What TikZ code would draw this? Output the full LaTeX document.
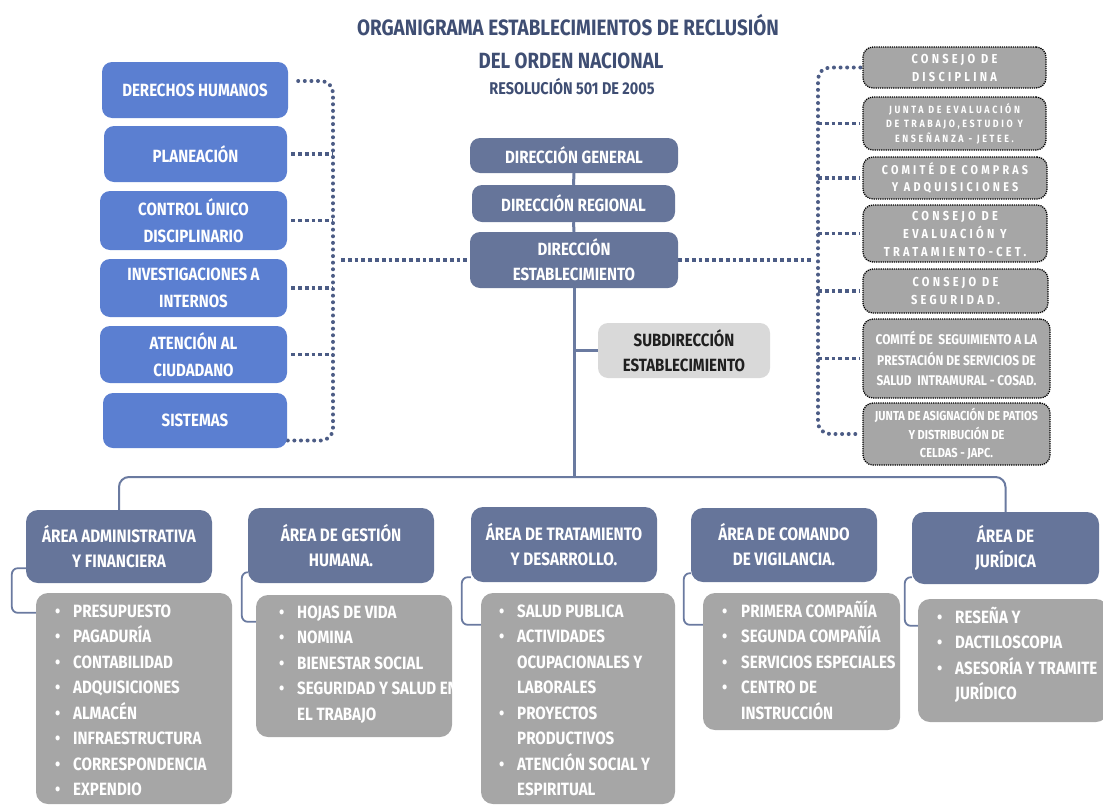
\documentclass[tikz,border=0pt]{standalone}
\usepackage{fontspec}
\setmainfont{Fira Sans}[FakeStretch=0.85]
\definecolor{titleC}{HTML}{3F4E73}
\definecolor{blueC}{HTML}{5B7FD1}
\definecolor{slateC}{HTML}{66759A}
\definecolor{grayC}{HTML}{A6A6A6}
\definecolor{lightC}{HTML}{D9D9D9}
\definecolor{lineC}{HTML}{6A7AA0}
\definecolor{dotC}{HTML}{4C5C85}
\definecolor{darkT}{HTML}{1F1F1F}
\pgfdeclarelayer{bg}
\pgfsetlayers{bg,main}
\tikzset{
  box/.style={rounded corners=10pt, inner sep=0pt, align=center, text=white,
    font=\bfseries\fontsize{17.7}{26.5}\selectfont},
  bluebox/.style={box, fill=blueC},
  slatebox/.style={box, fill=slateC},
  hdrbox/.style={box, fill=slateC, rounded corners=12pt, font=\bfseries\fontsize{18}{25}\selectfont},
  subbox/.style={box, fill=lightC, text=darkT},
  dotbox/.style={box, fill=grayC, draw=black, line width=1.3pt, dash pattern=on 1.2pt off 1pt},
  spaced/.style 2 args={font=\bfseries\fontsize{#1}{#2}\selectfont\addfontfeature{LetterSpace=25}},
  listbox/.style={rounded corners=12pt, fill=grayC, inner sep=0pt},
  listtext/.style={text=white, inner sep=0pt, anchor=base west, font=\bfseries\fontsize{17.8}{25.5}\selectfont},
  titletext/.style={text=titleC, inner sep=0pt, anchor=base, font=\bfseries\fontsize{#1}{#1}\selectfont},
  rdots/.style={draw=dotC, line width=4pt, line cap=round, dash pattern=on 0pt off 6.6pt},
  sqdash/.style={draw=dotC, line width=3.8pt, dash pattern=on 3.8pt off 3pt},
  trunk/.style={draw=lineC, line width=3pt},
  brk/.style={draw=lineC, line width=1.8pt, rounded corners=6pt},
}
\begin{document}
\begin{tikzpicture}[x=1pt,y=-1pt]
\useasboundingbox (0,0) rectangle (1103,806);
% title
\node[titletext=22.2] (t1) at (568,35) {ORGANIGRAMA ESTABLECIMIENTOS DE RECLUSIÓN};
\node[titletext=22] (t2) at (571,68) {DEL ORDEN NACIONAL};
\node[titletext=17] (t3) at (572,94) {RESOLUCIÓN 501 DE 2005};
% left boxes
\node[bluebox, minimum width=186pt, minimum height=56pt] (lb1) at (195,90) {DERECHOS HUMANOS};
\node[bluebox, minimum width=183pt, minimum height=56pt] (lb2) at (195.5,154) {PLANEACIÓN};
\node[bluebox, minimum width=187pt, minimum height=59pt] (lb3) at (193.5,220.5) {CONTROL ÚNICO\\DISCIPLINARIO};
\node[bluebox, minimum width=187pt, minimum height=58pt] (lb4) at (193.5,288) {INVESTIGACIONES A\\INTERNOS};
\node[bluebox, minimum width=187pt, minimum height=57pt] (lb5) at (193.5,354.5) {ATENCIÓN AL\\CIUDADANO};
\node[bluebox, minimum width=184pt, minimum height=55pt] (lb6) at (195,420.5) {SISTEMAS};
% centre
\node[slatebox, minimum width=208pt, minimum height=35pt] (dg) at (574,155.5) {DIRECCIÓN GENERAL};
\node[slatebox, minimum width=203pt, minimum height=37pt] (dr) at (573.5,203.5) {DIRECCIÓN REGIONAL};
\node[slatebox, minimum width=208pt, minimum height=56pt, font=\bfseries\fontsize{17.7}{25}\selectfont] (de) at (574,260) {DIRECCIÓN\\ESTABLECIMIENTO};
\node[subbox, minimum width=172pt, minimum height=55pt, font=\bfseries\fontsize{17.7}{25}\selectfont] (sub) at (684,350.5) {SUBDIRECCIÓN\\ESTABLECIMIENTO};
% right boxes
\node[dotbox, spaced={13}{18}, minimum width=183pt, minimum height=41pt] (rb1) at (954.5,67.5) {CONSEJO DE\\DISCIPLINA};
\node[dotbox, spaced={10.5}{14.5}, minimum width=183pt, minimum height=53pt] (rb2) at (954.5,123.5) {JUNTA DE EVALUACIÓN\\DE TRABAJO,ESTUDIO Y\\ENSEÑANZA - JETEE.};
\node[dotbox, spaced={12.7}{17}, minimum width=184pt, minimum height=42pt] (rb3) at (955,178) {COMITÉ DE COMPRAS\\Y ADQUISICIONES};
\node[dotbox, spaced={13}{18}, minimum width=184pt, minimum height=57pt] (rb4) at (955,233.5) {CONSEJO DE\\EVALUACIÓN Y\\TRATAMIENTO-CET.};
\node[dotbox, spaced={13}{18}, minimum width=185pt, minimum height=44pt] (rb5) at (955.5,291) {CONSEJO DE\\SEGURIDAD.};
\node[dotbox, font=\bfseries\fontsize{14}{20.5}\selectfont, minimum width=187pt, minimum height=79pt] (rb6) at (956.5,358.5) {COMITÉ DE \ SEGUIMIENTO A LA\\PRESTACIÓN DE SERVICIOS DE\\SALUD \ INTRAMURAL - COSAD.};
\node[dotbox, font=\bfseries\fontsize{13}{18.5}\selectfont, minimum width=187pt, minimum height=62pt] (rb7) at (956.5,434) {JUNTA DE ASIGNACIÓN DE PATIOS\\Y DISTRIBUCIÓN DE\\CELDAS - JAPC.};
% bottom headers
\node[hdrbox, minimum width=186pt, minimum height=73pt] (h1) at (119,546.5) {ÁREA ADMINISTRATIVA\\Y FINANCIERA};
\node[hdrbox, minimum width=186pt, minimum height=75pt] (h2) at (341,545.5) {ÁREA DE GESTIÓN\\HUMANA.};
\node[hdrbox, minimum width=186pt, minimum height=75pt] (h3) at (564,544.5) {ÁREA DE TRATAMIENTO\\Y DESARROLLO.};
\node[hdrbox, minimum width=186pt, minimum height=74pt] (h4) at (784,545) {ÁREA DE COMANDO\\DE VIGILANCIA.};
\node[hdrbox, minimum width=187pt, minimum height=72pt] (h5) at (1005.5,548) {ÁREA DE\\JURÍDICA};
% list boxes
\node[listbox, minimum width=196pt, minimum height=211pt] (l1) at (134,698.5) {};
\node[listbox, minimum width=196pt, minimum height=142pt] (l2) at (354,666) {};
\node[listbox, minimum width=194pt, minimum height=211pt] (l3) at (578,698.5) {};
\node[listbox, minimum width=197pt, minimum height=137pt] (l4) at (801.5,661.5) {};
\node[listbox, minimum width=190pt, minimum height=123pt] (l5) at (1013,660.5) {};
\node[listtext] (lt1) at (55,617) {\begin{tabular}[t]{@{}p{18pt}@{}l@{}}
\textbullet & PRESUPUESTO\\ \textbullet & PAGADURÍA\\ \textbullet & CONTABILIDAD\\
\textbullet & ADQUISICIONES\\ \textbullet & ALMACÉN\\ \textbullet & INFRAESTRUCTURA\\
\textbullet & CORRESPONDENCIA\\ \textbullet & EXPENDIO\end{tabular}};
\node[listtext] (lt2) at (279,618) {\begin{tabular}[t]{@{}p{18pt}@{}l@{}}
\textbullet & HOJAS DE VIDA\\ \textbullet & NOMINA\\ \textbullet & BIENESTAR SOCIAL\\
\textbullet & SEGURIDAD Y SALUD EN\\ & EL TRABAJO\end{tabular}};
\node[listtext] (lt3) at (499,617) {\begin{tabular}[t]{@{}p{18pt}@{}l@{}}
\textbullet & SALUD PUBLICA\\ \textbullet & ACTIVIDADES\\ & OCUPACIONALES Y\\ & LABORALES\\
\textbullet & PROYECTOS\\ & PRODUCTIVOS\\ \textbullet & ATENCIÓN SOCIAL Y\\ & ESPIRITUAL\end{tabular}};
\node[listtext] (lt4) at (722,617) {\begin{tabular}[t]{@{}p{19pt}@{}l@{}}
\textbullet & PRIMERA COMPAÑÍA\\ \textbullet & SEGUNDA COMPAÑÍA\\ \textbullet & SERVICIOS ESPECIALES\\
\textbullet & CENTRO DE\\ & INSTRUCCIÓN\end{tabular}};
\node[listtext] (lt5) at (937,623) {\begin{tabular}[t]{@{}p{18pt}@{}l@{}}
\textbullet & RESEÑA Y\\ \textbullet & DACTILOSCOPIA\\ \textbullet & ASESORÍA Y TRAMITE\\ & JURÍDICO\end{tabular}};
% connectors
\coordinate (lv) at (333,260);
\coordinate (rv) at (818,260);
\coordinate (bus) at (574,477);
\begin{pgfonlayer}{bg}
\draw[rdots, rounded corners=12pt] ([xshift=10pt,yshift=9pt]lb1.east) -| (lv) |- ([yshift=-20pt]lb6.east);
\foreach \n in {lb2,lb3,lb4,lb5} \draw[sqdash] ([xshift=4pt]\n.east) -- (\n.east -| lv);
\draw[sqdash] ([xshift=8pt]lv) -- (de.west);
\draw[sqdash] (de.east) -- ([xshift=-6pt]rv);
\draw[rdots, rounded corners=12pt] ([xshift=-2pt]rb1.west) -| (rv) |- ([xshift=-2pt]rb7.west);
\foreach \n in {rb2,rb3,rb4,rb5,rb6} \draw[sqdash] (\n.west -| rv) -- ([xshift=-3pt]\n.west);
\draw[trunk] (dg.south) -- (dr.north);
\draw[trunk] (dr.south) -- (de.north);
\draw[trunk] (de.south) -- (bus);
\draw[trunk, line width=2.2pt] (sub.west -| bus) -- (sub.west);
\draw[brk, line width=2pt, rounded corners=10pt] (h1.north) |- (bus) -| (h5.north);
\draw[brk] ([yshift=15pt]h1.south west) -- ++(-14,0) |- ([yshift=-20pt]l1.north west);
\draw[brk] ([yshift=11pt]h2.south west) -- ++(-6,0) |- ([yshift=-27pt]l2.north west);
\draw[brk] ([yshift=5pt]h3.south west) -- ++(-9,0) |- ([yshift=-32pt]l3.north west);
\draw[brk] ([yshift=9pt]h4.south west) -- ++(-7,0) |- ([yshift=-32pt]l4.north west);
\draw[brk] ([yshift=7pt]h5.south west) -- ++(-7,0) |- ([yshift=-27pt]l5.north west);
\end{pgfonlayer}
\end{tikzpicture}
\end{document}
